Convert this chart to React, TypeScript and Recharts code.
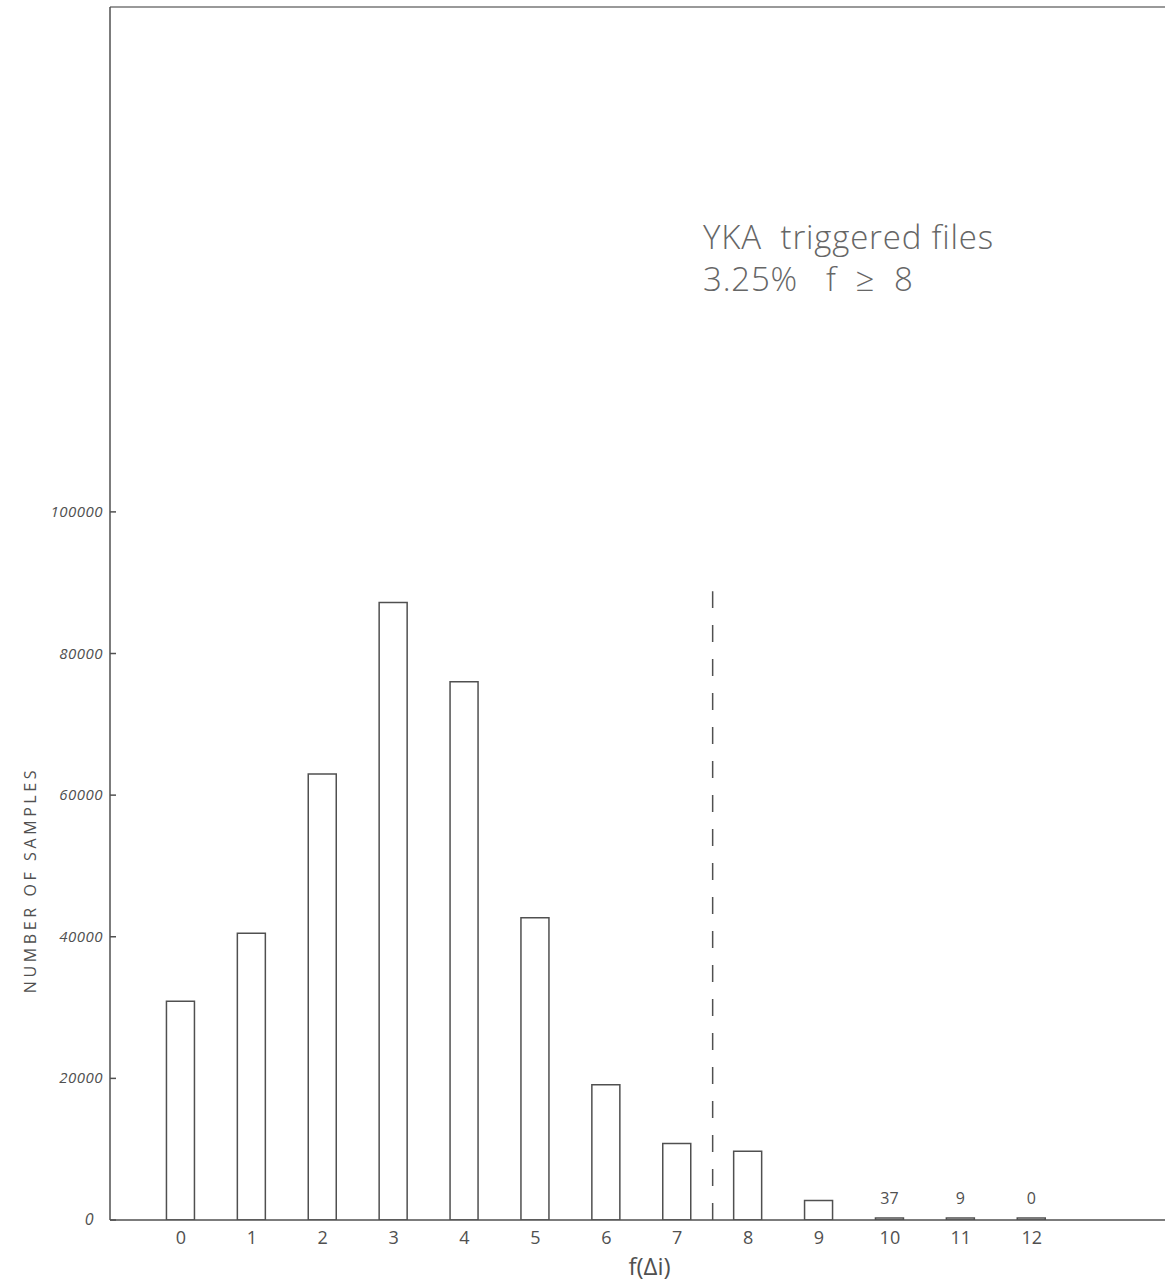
import React from 'react';
import { BarChart, Bar, XAxis, YAxis, ReferenceLine, LabelList } from 'recharts';

const categories = [0, 1, 2, 3, 4, 5, 6, 7, 8, 9, 10, 11, 12];
const counts = [30900, 40500, 63000, 87200, 76000, 42700, 19100, 10800, 9700, 2750, 37, 9, 0];
const yTicks = [0, 20000, 40000, 60000, 80000, 100000];
const labeledCategories = [10, 11, 12];
const thresholdX = 7.5;
const thresholdTop = 88800;
const yMax = 171300;
const xDomain = [-1, 13.88];

const data = categories.map((c, i) => ({ f: c, n: counts[i] }));

const ink = '#505050';
const font = '"Open Sans", "DejaVu Sans", sans-serif';

const YTick = (props: any) => {
  const { x, y, payload } = props;
  return (
    <g>
      <line x1={x + 7} x2={x + 13} y1={y} y2={y} stroke={ink} strokeWidth={1.5} />
      <text
        x={payload.value === 0 ? x - 9 : x}
        y={y}
        dy={5}
        textAnchor="end"
        fontSize={payload.value === 0 ? 16 : 15}
        fontStyle="italic"
        fill={ink}
        fontFamily={font}
        letterSpacing={0.5}
      >
        {payload.value}
      </text>
    </g>
  );
};

const XTick = (props: any) => {
  const { x, y, payload } = props;
  return (
    <text x={x} y={y} dy={14} textAnchor="middle" fontSize={18} fill={ink} fontFamily={font}>
      {payload.value}
    </text>
  );
};

const CountLabel = (props: any) => {
  const { x, y, width, value, index } = props;
  if (!labeledCategories.includes(categories[index])) return null;
  return (
    <text x={x + width / 2} y={y - 14} textAnchor="middle" fontSize={16} fill={ink} fontFamily={font}>
      {value}
    </text>
  );
};

export default function App() {
  return (
    <div style={{ position: 'absolute', left: 0, top: 0, width: 1165, height: 1283, background: '#fff' }}>
      <BarChart
        width={1165}
        height={1283}
        data={data}
        margin={{ top: 7, right: 0, left: 0, bottom: 0 }}
      >
        <XAxis
          dataKey="f"
          type="number"
          domain={xDomain}
          ticks={categories}
          interval={0}
          allowDataOverflow
          height={63}
          stroke={ink}
          strokeWidth={1.5}
          tickLine={false}
          tickSize={0}
          tickMargin={10}
          tick={<XTick />}
          label={{ value: 'f(Δi)', position: 'insideBottom', offset: 8, dx: 12, fontSize: 24, fill: ink, fontFamily: font }}
        />
        <YAxis
          type="number"
          domain={[0, yMax]}
          ticks={yTicks}
          allowDataOverflow
          width={110}
          stroke={ink}
          strokeWidth={1.5}
          tickLine={false}
          tickSize={0}
          tickMargin={7}
          tick={<YTick />}
        />
        <ReferenceLine y={yMax} stroke="#777" strokeWidth={1.5} />
        <ReferenceLine
          segment={[{ x: thresholdX, y: 0 }, { x: thresholdX, y: thresholdTop }]}
          stroke={ink}
          strokeWidth={1.5}
          strokeDasharray="17 17"
        />
        <Bar
          dataKey="n"
          barSize={28}
          fill="#fff"
          stroke={ink}
          strokeWidth={1.5}
          minPointSize={2}
          isAnimationActive={false}
        >
          <LabelList dataKey="n" content={<CountLabel />} />
        </Bar>
      </BarChart>
      <div
        style={{
          position: 'absolute',
          left: 703,
          top: 216,
          fontFamily: font,
          fontSize: 33,
          color: '#666',
          lineHeight: '42px',
          fontWeight: 300,
          letterSpacing: 0.8,
          whiteSpace: 'nowrap',
        }}
      >
        <div>YKA&nbsp; triggered files</div>
        <div>3.25%&nbsp;&nbsp; f&nbsp; ≥&nbsp; 8</div>
      </div>
      <div
        style={{
          position: 'absolute',
          left: 30,
          top: 880,
          transform: 'translate(-50%, -50%) rotate(-90deg)',
          fontFamily: font,
          fontSize: 16,
          letterSpacing: 3.6,
          color: ink,
          whiteSpace: 'nowrap',
        }}
      >
        NUMBER OF SAMPLES
      </div>
    </div>
  );
}
